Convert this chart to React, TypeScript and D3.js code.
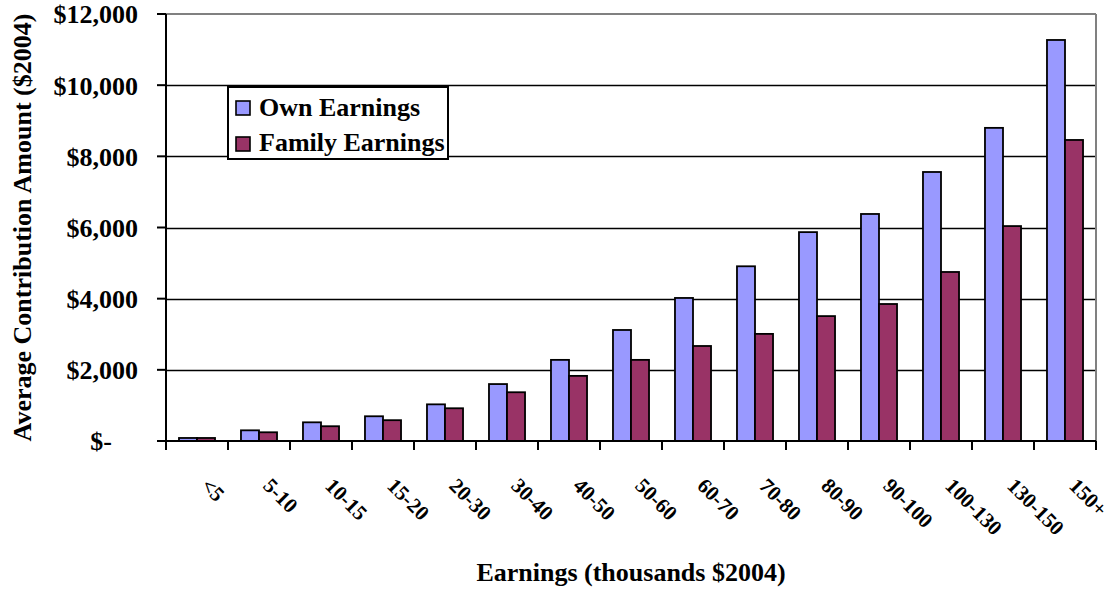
import React from 'react';
import * as d3 from 'd3';

const categories = ['<5', '5-10', '10-15', '15-20', '20-30', '30-40', '40-50', '50-60', '60-70', '70-80', '80-90', '90-100', '100-130', '130-150', '150+'];
const seriesNames = ['Own Earnings', 'Family Earnings'];
const ownEarnings = [85, 300, 525, 695, 1030, 1600, 2280, 3120, 4020, 4910, 5870, 6380, 7560, 8800, 11270];
const familyEarnings = [85, 245, 415, 585, 920, 1370, 1830, 2280, 2670, 3010, 3510, 3850, 4750, 6040, 8460];
const yTicks = [0, 2000, 4000, 6000, 8000, 10000, 12000];
const yTickLabels = ['$-', '$2,000', '$4,000', '$6,000', '$8,000', '$10,000', '$12,000'];
const colors = ['#9999FF', '#993366'];

const width = 1111;
const height = 594;
const margin = { top: 14, right: 15, bottom: 153, left: 166 };
const font = '"Liberation Serif", "Times New Roman", serif';

const App: React.FC = () => {
  const x = d3
    .scaleBand()
    .domain(categories)
    .range([margin.left, width - margin.right])
    .padding(0);

  // two bars per category, ~150% gap width like Excel
  const xInner = d3
    .scaleBand()
    .domain(seriesNames)
    .range([0, x.bandwidth()])
    .paddingInner(0)
    .paddingOuter(0.72);

  const y = d3
    .scaleLinear()
    .domain([0, 12000])
    .range([height - margin.bottom, margin.top]);

  const values = [ownEarnings, familyEarnings];
  const x0 = margin.left;
  const x1 = width - margin.right;
  const yBase = y(0);
  const snap = (v: number) => Math.round(v) + 0.5;

  return (
    <svg width={width} height={height} style={{ position: 'absolute', left: 0, top: 0, background: '#fff' }} fontFamily={font} fontWeight="bold">
      {/* gridlines */}
      {yTicks.slice(1, -1).map((t) => (
        <line key={'g' + t} x1={x0} x2={x1} y1={snap(y(t))} y2={snap(y(t))} stroke="#000" strokeWidth={1.5} />
      ))}
      {/* plot border top/right */}
      <line x1={x0} x2={x1} y1={y(12000)} y2={y(12000)} stroke="#808080" strokeWidth={2} />
      <line x1={x1} x2={x1} y1={y(12000)} y2={yBase} stroke="#808080" strokeWidth={2} />

      {/* bars */}
      {seriesNames.map((s, si) =>
        categories.map((c, ci) => (
          <rect
            key={s + c}
            x={(x(c) || 0) + (xInner(s) || 0)}
            y={y(values[si][ci])}
            width={xInner.bandwidth()}
            height={yBase - y(values[si][ci])}
            fill={colors[si]}
            stroke="#000"
            strokeWidth={1.8}
          />
        ))
      )}

      {/* axes */}
      <line x1={x0} x2={x0} y1={y(12000)} y2={yBase} stroke="#000" strokeWidth={2} />
      <line x1={x0} x2={x1} y1={yBase} y2={yBase} stroke="#000" strokeWidth={2} />
      {yTicks.map((t, i) => (
        <g key={'yt' + t}>
          <line x1={x0 - 9} x2={x0} y1={y(t)} y2={y(t)} stroke="#000" strokeWidth={2} />
          <text x={t === 0 ? 112 : 138} y={y(t)} dy="0.36em" textAnchor="end" fontSize={26}>
            {yTickLabels[i]}
          </text>
        </g>
      ))}
      {categories.concat(['']).map((c, i) => (
        <line key={'xt' + i} x1={x0 + i * x.step()} x2={x0 + i * x.step()} y1={yBase} y2={yBase + 9} stroke="#000" strokeWidth={2} />
      ))}
      {categories.map((c) => {
        const cx = (x(c) || 0) + x.bandwidth() / 2 + 3;
        return (
          <text key={'xl' + c} x={cx} y={487} transform={`rotate(45, ${cx}, 487)`} fontSize={21}>
            {c}
          </text>
        );
      })}

      {/* axis titles */}
      <text x={(x0 + x1) / 2} y={581} textAnchor="middle" fontSize={26}>
        Earnings (thousands $2004)
      </text>
      <text transform={`translate(31, ${(y(0) + y(12000)) / 2}) rotate(-90)`} textAnchor="middle" fontSize={26}>
        Average Contribution Amount ($2004)
      </text>

      {/* legend */}
      <rect x={228} y={87} width={220} height={72} fill="#fff" stroke="#000" strokeWidth={2} />
      {seriesNames.map((s, i) => (
        <g key={'lg' + s}>
          <rect x={236} y={101 + i * 36} width={14} height={14} fill={colors[i]} stroke="#000" strokeWidth={1.6} />
          <text x={259} y={116 + i * 35} fontSize={26}>
            {s}
          </text>
        </g>
      ))}
    </svg>
  );
};

export default App;
